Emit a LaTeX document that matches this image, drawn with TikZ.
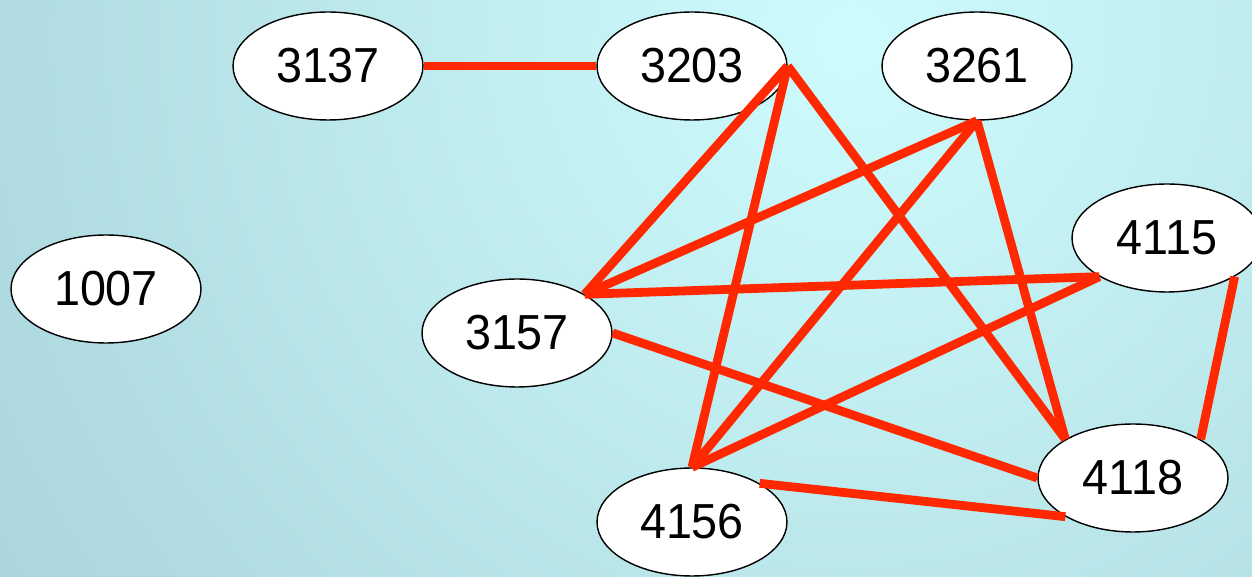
\documentclass[tikz,border=0pt]{standalone}
\usepackage{fontspec}
\setmainfont{Liberation Sans}[FakeStretch=0.95]
\usetikzlibrary{shapes.geometric}
\definecolor{bgInner}{RGB}{206,251,252}
\definecolor{bgOuter}{RGB}{140,183,193}
\definecolor{linkRed}{RGB}{255,40,0}

\begin{document}
\begin{tikzpicture}[x=0.02cm,y=-0.02cm,
    grNode/.style={ellipse,draw=black,line width=0.8pt,fill=white,
        minimum width=3.8cm,minimum height=2.16cm,inner sep=0pt,
        font=\fontsize{28}{32}\selectfont},
    grLink/.style={linkRed,line width=5pt},
]
% Background
\useasboundingbox (0,0) rectangle (1252,577);
\begin{scope}
\clip (0,0) rectangle (1252,577);
\shade[inner color=bgInner,outer color=bgOuter] (850,40) circle[radius=37cm];
\end{scope}
% Nodes
\node[grNode] (n3137) at (328,66) {3137};
\node[grNode] (n3203) at (692,66) {3203};
\node[grNode] (n3261) at (977,66) {3261};
\node[grNode] (n4115) at (1167,238) {4115};
\node[grNode] (n1007) at (106,289) {1007};
\node[grNode] (n3157) at (517,333) {3157};
\node[grNode] (n4118) at (1133,478) {4118};
\node[grNode] (n4156) at (692,522) {4156};
% Links
\draw[grLink] (n3137.east) -- (n3203.west);
\draw[grLink] (n3203.east) -- (n3157.north east);
\draw[grLink] (n3203.east) -- (n4156.north);
\draw[grLink] (n3203.east) -- (n4118.north west);
\draw[grLink] (n3261.south) -- (n3157.north east);
\draw[grLink] (n3261.south) -- (n4156.north);
\draw[grLink] (n3261.south) -- (n4118.north west);
\draw[grLink] (n3157.north east) -- (n4115.south west);
\draw[grLink] (n3157.east) -- (n4118.west);
\draw[grLink] (n4115.south west) -- (n4156.north);
\draw[grLink] (n4115.south east) -- (n4118.north east);
\draw[grLink] (n4156.north east) -- (n4118.south west);
\end{tikzpicture}
\end{document}
